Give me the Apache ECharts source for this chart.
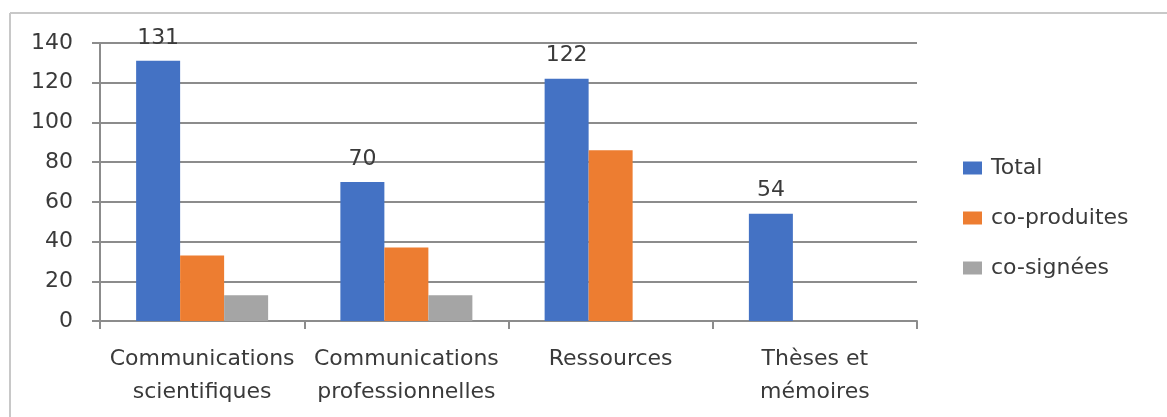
<!DOCTYPE html>
<html>
<head>
<meta charset="utf-8">
<script src="https://cdn.jsdelivr.net/npm/echarts@6/dist/echarts.min.js"></script>
<style>
html,body{margin:0;padding:0;background:#fff;overflow:hidden;}
#chart{width:1167px;height:417px;}
</style>
</head>
<body>
<div id="chart"></div>
<script>
var categories = ['Communications\nscientifiques', 'Communications\nprofessionnelles', 'Ressources', 'Thèses et\nmémoires'];
var totalValues = [131, 70, 122, 54];
var coProduitesValues = [33, 37, 86, null];
var coSigneesValues = [13, 13, null, null];
var yTicks = [0, 20, 40, 60, 80, 100, 120, 140];

var chart = echarts.init(document.getElementById('chart'));
var font = 'DejaVu Sans, sans-serif';
var txt = '#3a3a3a';
chart.setOption({
  animation: false,
  backgroundColor: '#fff',
  graphic: [
    { type: 'line', shape: { x1: 10, y1: 13, x2: 1200, y2: 13 }, style: { stroke: '#c8c8c8', lineWidth: 2 } },
    { type: 'line', shape: { x1: 10, y1: 13, x2: 10, y2: 430 }, style: { stroke: '#c8c8c8', lineWidth: 2 } }
  ],
  grid: { left: 100, top: 43, width: 817, height: 278, containLabel: false },
  legend: {
    orient: 'vertical',
    left: 963,
    top: 157,
    padding: 0,
    itemWidth: 19,
    itemHeight: 13,
    itemGap: 28,
    icon: 'rect',
    textStyle: { fontFamily: font, fontSize: 22, color: txt, padding: [0, 0, 0, 4] },
    data: ['Total', 'co-produites', 'co-signées']
  },
  xAxis: {
    type: 'category',
    data: categories,
    axisLine: { lineStyle: { color: '#8c8c8c', width: 2 } },
    axisTick: { show: true, length: 8, lineStyle: { color: '#8c8c8c', width: 2 } },
    axisLabel: { fontFamily: font, fontSize: 22, color: txt, lineHeight: 33, margin: 22, interval: 0 }
  },
  yAxis: {
    type: 'value',
    min: 0,
    max: 140,
    interval: 20,
    axisLine: { show: true, lineStyle: { color: '#8c8c8c', width: 2 } },
    axisTick: { show: true, length: 8, lineStyle: { color: '#8c8c8c', width: 2 } },
    splitLine: { lineStyle: { color: '#8c8c8c', width: 2 } },
    axisLabel: { fontFamily: font, fontSize: 22, color: txt, margin: 27,
      formatter: function (v) { return yTicks.indexOf(v) >= 0 ? String(v) : ''; } }
  },
  series: [
    { name: 'Total', type: 'bar', data: totalValues, barWidth: 44, barGap: '0%',
      itemStyle: { color: '#4472C4' },
      label: { show: true, position: 'top', distance: 12, fontFamily: font, fontSize: 22, color: txt } },
    { name: 'co-produites', type: 'bar', data: coProduitesValues, barWidth: 44, barGap: '0%',
      itemStyle: { color: '#ED7D31' } },
    { name: 'co-signées', type: 'bar', data: coSigneesValues, barWidth: 44, barGap: '0%',
      itemStyle: { color: '#A5A5A5' } }
  ]
});
</script>
</body>
</html>
